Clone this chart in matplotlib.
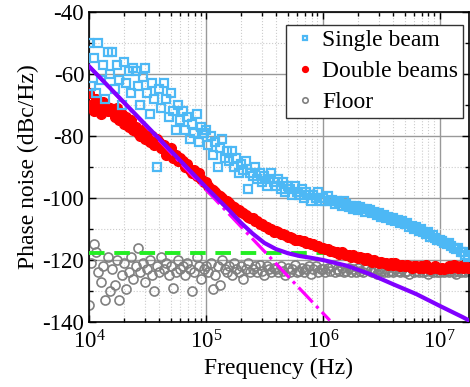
import numpy as np
import matplotlib
matplotlib.use('Agg')
import matplotlib.pyplot as plt
from matplotlib.ticker import LogLocator, MultipleLocator, FuncFormatter, NullFormatter

plt.rcParams['font.family'] = ['Liberation Serif', 'DejaVu Serif']
plt.rcParams['mathtext.fontset'] = 'custom'
plt.rcParams['mathtext.rm'] = 'Liberation Serif'
plt.rcParams['mathtext.it'] = 'Liberation Serif:italic'
plt.rcParams['axes.unicode_minus'] = False

# measurement grid: log10(frequency), 50 points per decade from 1e4
log_freq = 4 + np.arange(163) / 50.0

single_beam = [
    -50, -64, -55, -66, -50, -62, -57, -68, -53, -60,
    -53, -65, -57, -62, -70, -56, -63, -59, -66, -58,
    -59, -64, -70, -61, -58, -66, -73, -63, -68, -90,
    -65, -71, -63, -68, -74, -66, -72, -78, -70, -75,
    -72, -78, -74, -81, -76, -79, -73, -82, -77, -79,
    -78, -83, -80, -86, -82, -90, -84, -81, -87, -85,
    -88, -85, -90, -87, -92, -89, -91, -88, -97, -92,
    -93, -90, -94, -92, -95, -93, -96, -94, -92, -95,
    -96, -94, -97, -95, -98, -96, -97, -99, -96, -98,
    -99, -97, -100, -98, -99, -101, -99, -100, -98, -101,
    -100, -101, -99.5, -101, -100.5, -102, -101, -101.5, -102.5, -101,
    -102, -103, -102.5, -103.5, -102.5, -104, -103, -103.5, -104.5, -103.5,
    -104, -105, -104.5, -105.5, -105, -106, -105.5, -106.5, -106, -107,
    -106.5, -107.5, -107, -108, -107.5, -108.5, -108, -109.5, -109, -110,
    -109.5, -110.5, -110, -111, -111.5, -111, -112.5, -112, -113, -113.5,
    -113.5, -114, -114.5, -115, -114.5, -115.5, -116, -116.5, -116, -117.5,
    -117.5, -118.5, -119,
]

double_beams = [
    -66, -70, -72, -68, -71, -73, -69, -70, -72, -71,
    -72, -74, -71, -75, -73, -76, -74, -77, -75, -78,
    -77, -79, -80, -78, -81, -79, -82, -80, -83, -81,
    -82, -84, -83, -86, -85, -84, -87, -86, -88, -87,
    -88, -90, -89, -91, -92, -91, -93, -92, -94, -95,
    -95, -96, -97, -97.5, -98, -99, -99.5, -100, -101, -101,
    -101.5, -102.5, -103, -103.5, -104, -104.5, -105, -105.5, -106, -106.5,
    -106.5, -107.5, -107.5, -108.5, -108.5, -109, -109.5, -110, -110, -111,
    -110.5, -111, -111.5, -111.5, -112, -112.5, -112.5, -113, -113.5, -113.5,
    -113.5, -114, -114, -114.5, -114.5, -115, -115, -115.5, -115.5, -116,
    -116, -116.5, -116.5, -117, -117, -117.5, -117.5, -118, -117.5, -118,
    -118.5, -118.5, -119, -118.5, -119, -119.5, -119, -119.5, -120, -119.5,
    -120, -120.5, -120, -120.5, -121, -120.5, -121, -121, -121.5, -121,
    -121.5, -121, -121.5, -122, -121.5, -122, -121.5, -122, -122.5, -122,
    -122, -122.5, -122, -122.5, -121.5, -122.5, -123, -122.5, -122, -122.5,
    -123, -122.5, -123, -122.5, -122, -122.5, -121.5, -122, -122.5, -122,
    -122.5, -122, -122.5,
]

floor = [
    -134.5, -121, -115, -117.5, -124, -127, -122, -133, -119, -130,
    -123, -128, -120, -133, -125, -121, -129.5, -124, -119, -126,
    -122, -116, -124, -121, -127, -123, -120, -125, -130, -122,
    -124, -119, -123, -121, -125, -122, -129, -124, -120, -123,
    -122, -125, -121, -123, -130, -124, -119, -122, -126, -123,
    -122, -124, -121, -129.5, -125, -122, -128, -120, -123, -124,
    -122, -125, -121, -123, -124, -122, -126, -123, -121, -124,
    -123, -122, -124, -121.5, -123.5, -125, -122, -123, -124, -122.5,
    -123, -124, -122, -123.5, -125, -122.5, -124, -123, -121.5, -124,
    -123.5, -122.5, -124, -123, -122, -124.5, -123, -122, -124, -123,
    -123, -124, -122.5, -123.5, -122, -124, -123, -123.5, -122.5, -124,
    -123.5, -122.5, -124, -123, -124, -122.5, -123.5, -124, -123, -122.5,
    -123.5, -124, -123, -124.5, -123, -123.5, -124, -123, -124, -123.5,
    -124, -123, -123.5, -124, -123, -124, -123.5, -124.5, -123, -124,
    -123.5, -124, -123, -124, -123.5, -124.5, -123.5, -124, -123, -124,
    -124, -123.5, -124, -123, -124, -123.5, -124, -124.5, -123.5, -124,
    -123.5, -124, -123.5,
]

# model curve (purple) read at log10 frequency points
model_logf = [4.0, 4.5, 5.0, 5.2, 5.3, 5.4, 5.5, 5.6, 5.7, 5.8, 5.9, 6.0,
              6.2, 6.4, 6.6, 6.8, 7.0, 7.2, 7.3]
model_val = [-57.5, -77, -96.5, -104, -108, -111.5, -114.5, -116.5, -117.8,
             -118.7, -119.3, -120, -121.8, -124.5, -127.8, -131, -134.8,
             -138.5, -140.5]

# f^-4 asymptote (magenta dash-dot)
asym_logf = [4.0, 6.06]
asym_val = [-57.5, -139.5]

# floor level (green dashed)
level_logf = [4.0, 6.1]
level_val = [-117.8, -117.8]

freq = 10 ** log_freq

fig = plt.figure(figsize=(4.70, 3.87), dpi=100)
ax = fig.add_axes([89/470, 1 - 322/387, (469 - 89)/470, (322 - 12)/387])

ax.plot(freq, floor, 'o', mfc='none', mec='#808080', ms=6.5, mew=1.2,
        label='Floor', zorder=2)
ax.plot(10 ** np.array(level_logf), level_val, '--', color='#22EE22',
        lw=2.8, dashes=(4, 2.5), zorder=3)
ax.plot(freq, double_beams, 'o', color='#FF0000', mec='#FF0000', ms=7,
        label='Double beams', zorder=4)
ax.plot(freq, single_beam, 's', mfc='none', mec='#4DB8F5', ms=5.5, mew=1.6,
        label='Single beam', zorder=4)
ax.plot(10 ** np.array(asym_logf), asym_val, '-.', color='#FF00FF', lw=2.3,
        zorder=5)
ax.plot(10 ** np.array(model_logf), model_val, '-', color='#8000FF', lw=3.0,
        zorder=6)

ax.set_xscale('log')
ax.set_xlim(1e4, 10 ** 7.25)
ax.set_ylim(-140, -40)
ax.xaxis.set_major_locator(LogLocator(base=10, numticks=10))
ax.xaxis.set_minor_locator(LogLocator(base=10, subs=np.arange(2, 10), numticks=20))
ax.xaxis.set_minor_formatter(NullFormatter())
ax.xaxis.set_major_formatter(FuncFormatter(lambda v, p: r'$10^{%d}$' % round(np.log10(v))))
ax.yaxis.set_major_locator(MultipleLocator(20))
ax.yaxis.set_minor_locator(MultipleLocator(10))
ax.yaxis.set_major_formatter(FuncFormatter(lambda v, p: '%d' % v))

ax.grid(which='major', color='#999999', lw=1.0, ls='-', zorder=0)
ax.grid(which='minor', color='#cccccc', lw=0.8, ls=':', zorder=0)
ax.set_axisbelow(True)

ax.tick_params(which='both', direction='in', top=True, right=True,
               labelsize=16.5, width=1.0)
ax.tick_params(which='major', length=5)
ax.tick_params(axis='x', which='major', pad=6)
ax.tick_params(which='minor', length=3)
for s in ax.spines.values():
    s.set_linewidth(1.2)

ax.set_xlabel('Frequency (Hz)', fontsize=17, labelpad=3)
ax.set_ylabel('Phase noise (dBc/Hz)', fontsize=17, labelpad=2)

handles, labels = ax.get_legend_handles_labels()
order = [2, 1, 0]
leg = ax.legend([handles[i] for i in order], [labels[i] for i in order],
                loc='upper right',
                bbox_to_anchor=((463 - 89) / 380, (322 - 25) / 310),
                fontsize=17, markerscale=0.6,
                fancybox=False, framealpha=1, edgecolor='#333333',
                handlelength=1.25, handletextpad=0.1, borderpad=0.2,
                labelspacing=0.4, borderaxespad=0.0)
leg.get_frame().set_linewidth(1.0)

fig.savefig('out.png', dpi=100)
